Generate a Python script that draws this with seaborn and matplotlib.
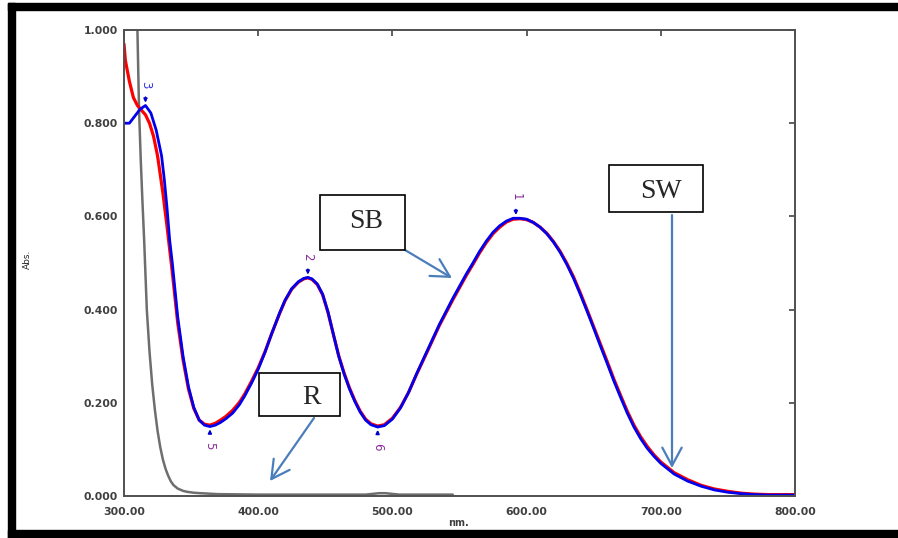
import matplotlib
matplotlib.use("Agg")
import matplotlib.pyplot as plt
from matplotlib.patches import Rectangle
import seaborn as sns

# blue spectrum (SB)
wl_blue = [300, 304, 308, 312, 316, 320, 324, 328, 330, 332, 334, 336,
           340, 344, 348, 352, 356, 360, 364, 368, 372, 376,
           381, 386, 390, 395, 400, 405, 410, 416, 420, 425,
           430, 434, 437, 440, 444, 448, 452, 456, 460, 464,
           468, 472, 476, 480, 484, 489, 494, 500, 506, 512,
           518, 526, 535, 545, 550, 555, 560, 565, 570, 575,
           580, 585, 590, 595, 600, 605, 610, 615, 620, 625,
           630, 635, 640, 645, 650, 655, 660, 665, 670, 675,
           680, 685, 690, 695, 700, 710, 720, 730, 740, 750,
           760, 770, 780, 800]
abs_blue = [0.800, 0.800, 0.815, 0.830, 0.838, 0.822, 0.785, 0.730, 0.680, 0.620, 0.550, 0.500,
            0.385, 0.300, 0.235, 0.190, 0.163, 0.152, 0.149, 0.152, 0.158, 0.166,
            0.178, 0.196, 0.215, 0.242, 0.272, 0.308, 0.348, 0.393, 0.420, 0.445,
            0.460, 0.467, 0.469, 0.466, 0.455, 0.433, 0.395, 0.347, 0.300, 0.262,
            0.230, 0.203, 0.180, 0.163, 0.153, 0.148, 0.151, 0.165, 0.189, 0.222,
            0.262, 0.312, 0.368, 0.424, 0.450, 0.476, 0.500, 0.525, 0.547, 0.566,
            0.580, 0.590, 0.596, 0.596, 0.594, 0.587, 0.577, 0.563, 0.545, 0.523,
            0.497, 0.467, 0.433, 0.397, 0.360, 0.322, 0.285, 0.247, 0.212, 0.178,
            0.148, 0.123, 0.102, 0.085, 0.070, 0.047, 0.032, 0.021, 0.013, 0.008,
            0.005, 0.003, 0.002, 0.002]

# red spectrum (SW)
wl_red = [300, 301, 304, 307, 310, 313, 316, 319, 322, 325, 329, 332, 334, 336,
          340, 344, 348, 352, 356, 360, 364, 368, 372, 376,
          381, 386, 390, 395, 400, 405, 410, 416, 420, 425,
          430, 434, 437, 440, 444, 448, 452, 456, 460, 464,
          468, 472, 476, 480, 484, 489, 494, 500, 506, 512,
          518, 526, 535, 545, 550, 555, 560, 565, 570, 575,
          580, 585, 590, 595, 600, 605, 610, 615, 620, 625,
          630, 635, 640, 645, 650, 655, 660, 665, 670, 675,
          680, 685, 690, 695, 700, 710, 720, 730, 740, 750,
          760, 770, 780, 800]
abs_red = [0.970, 0.935, 0.890, 0.855, 0.838, 0.828, 0.818, 0.800, 0.772, 0.730, 0.650,
           0.580, 0.530, 0.480,
           0.372, 0.292, 0.230, 0.188, 0.163, 0.154, 0.152, 0.156, 0.163, 0.171,
           0.184, 0.201, 0.219, 0.246, 0.275, 0.309, 0.348, 0.392, 0.419, 0.444,
           0.459, 0.466, 0.468, 0.465, 0.454, 0.432, 0.394, 0.347, 0.301, 0.264,
           0.232, 0.205, 0.182, 0.165, 0.155, 0.150, 0.153, 0.167, 0.190, 0.222,
           0.261, 0.310, 0.366, 0.421, 0.447, 0.473, 0.497, 0.522, 0.544, 0.563,
           0.577, 0.588, 0.594, 0.595, 0.593, 0.587, 0.577, 0.564, 0.546, 0.525,
           0.499, 0.470, 0.436, 0.400, 0.363, 0.326, 0.289, 0.251, 0.216, 0.182,
           0.152, 0.127, 0.106, 0.088, 0.073, 0.050, 0.035, 0.023, 0.015, 0.010,
           0.006, 0.004, 0.003, 0.003]

# gray spectrum (R)
wl_gray = [309.5, 310, 311.2, 312.5, 313.7, 315, 317, 319, 321, 323, 325, 327, 329, 331,
           333, 335, 337, 340, 344, 347, 352, 357, 370, 400, 450, 480, 490, 495, 505, 545]
abs_gray = [1.05, 1.00, 0.83, 0.72, 0.635, 0.55, 0.40, 0.31, 0.24, 0.185, 0.140, 0.105,
            0.078, 0.058, 0.043, 0.031, 0.023, 0.016, 0.011, 0.009, 0.007, 0.006, 0.004,
            0.003, 0.003, 0.003, 0.006, 0.006, 0.003, 0.003]

# peak picks
peak_labels = ["1", "2", "3"]
peak_wl = [592, 437, 316]
peak_abs = [0.597, 0.469, 0.838]
valley_labels = ["5", "6"]
valley_wl = [364, 489]
valley_abs = [0.149, 0.148]

W, H = 898, 538


def fpx(x, y):
    """pixel position -> figure fraction"""
    return x / W, 1 - y / H


sns.set_style("white")
plt.rcParams['font.family'] = ['DejaVu Sans']

fig = plt.figure(figsize=(W / 100, H / 100), dpi=100)
ax = fig.add_axes([124 / W, 1 - 496 / H, (795 - 124) / W, (496 - 30) / H])

sns.lineplot(x=wl_gray, y=abs_gray, ax=ax, color="#6e6e6e", linewidth=1.8, sort=False)
sns.lineplot(x=wl_red, y=abs_red, ax=ax, color="#ff0000", linewidth=2.3, sort=False)
sns.lineplot(x=wl_blue, y=abs_blue, ax=ax, color="#0000ee", linewidth=2.0, sort=False)

ax.set_xlim(300, 800)
ax.set_ylim(0, 1.0)
ax.set_xticks([300, 400, 500, 600, 700, 800])
ax.set_xticklabels([f"{v:.2f}" for v in [300, 400, 500, 600, 700, 800]])
ax.set_yticks([0, 0.2, 0.4, 0.6, 0.8, 1.0])
ax.set_yticklabels([f"{v:.3f}" for v in [0, 0.2, 0.4, 0.6, 0.8, 1.0]])
ax.tick_params(direction="in", length=4, width=1.2, color="#444444",
               top=True, right=True, labelsize=7.8, labelcolor="#404040")
ax.tick_params(axis="x", pad=8)
ax.tick_params(axis="y", pad=4.5)
for lab in ax.get_xticklabels() + ax.get_yticklabels():
    lab.set_fontweight("bold")
for side in ["left", "right", "top", "bottom"]:
    ax.spines[side].set_color("#505050")
    ax.spines[side].set_linewidth(1.4)
ax.set_xlabel("")
ax.set_ylabel("")

fig.text(*fpx(27, 259), "Abs.", rotation=90, ha="center", va="center", fontsize=6.5)
fig.text(*fpx(458, 523), "nm.", ha="center", va="center", fontsize=7, fontweight="bold",
         color="#404040")

# peak markers
for lab, x, y in zip(peak_labels, peak_wl, peak_abs):
    c = "#3333dd" if lab == "3" else "#8a2a9a"
    ax.annotate(lab, xy=(x, y), xytext=(0, 15), textcoords="offset points",
                ha="center", va="center", rotation=270, fontsize=8.5, color=c,
                arrowprops=dict(arrowstyle="-|>", color="#0000cc", lw=1.2,
                                mutation_scale=5, shrinkA=4, shrinkB=2))
for lab, x, y in zip(valley_labels, valley_wl, valley_abs):
    ax.annotate(lab, xy=(x, y), xytext=(0, -14), textcoords="offset points",
                ha="center", va="center", rotation=270, fontsize=8.5, color="#8a2a9a",
                arrowprops=dict(arrowstyle="-|>", color="#0000cc", lw=1.2,
                                mutation_scale=5, shrinkA=4, shrinkB=2))

# black frame around the picture
fig.add_artist(Rectangle(fpx(8, 538), 7 / W, 535 / H, transform=fig.transFigure,
                         color="black", zorder=10))
fig.add_artist(Rectangle(fpx(8, 10), 890 / W, 7 / H, transform=fig.transFigure,
                         color="black", zorder=10))
fig.add_artist(Rectangle(fpx(8, 538), 890 / W, 8 / H, transform=fig.transFigure,
                         color="black", zorder=10))

# labelled boxes with arrows
boxes = [("SB", 320, 195, 405, 250, 366, 222),
         ("SW", 609, 165, 703, 212, 661, 192),
         ("R", 259, 373, 340, 416, 312, 398)]
for txt, x0, y0, x1, y1, tx, ty in boxes:
    fig.add_artist(Rectangle(fpx(x0, y1), (x1 - x0) / W, (y1 - y0) / H,
                             transform=fig.transFigure, facecolor="white",
                             edgecolor="black", linewidth=1.2, zorder=5))
    fig.text(*fpx(tx, ty), txt, ha="center", va="center", fontsize=20,
             family="Liberation Serif", zorder=6)

arrows = [((405, 250), (452, 278)),
          ((672, 215), (672, 468)),
          ((314, 418), (270, 481))]
for start, end in arrows:
    ax.annotate("", xy=fpx(*end), xytext=fpx(*start), xycoords="figure fraction",
                textcoords="figure fraction",
                arrowprops=dict(arrowstyle="->,head_length=1.3,head_width=0.7",
                                color="#4a7ebb", lw=1.6, mutation_scale=10,
                                shrinkA=0, shrinkB=0), zorder=7)

fig.savefig("out.png", dpi=100)
